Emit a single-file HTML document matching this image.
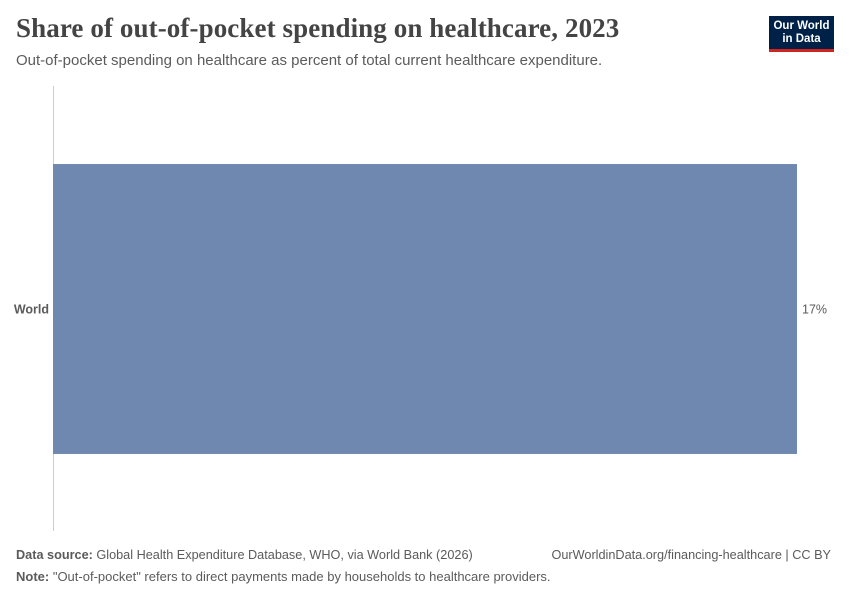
<!DOCTYPE html>
<html><head><meta charset="utf-8"><style>
body{margin:0;width:850px;height:600px;background:#fff;font-family:"Liberation Sans",sans-serif;position:relative;overflow:hidden}
.t{position:absolute;white-space:nowrap}
</style></head><body>
<div class="t" style="left:16px;top:13px;font-family:'Liberation Serif',serif;font-size:27px;font-weight:bold;color:#444;letter-spacing:0.1px">Share of out-of-pocket spending on healthcare, 2023</div>
<div class="t" style="left:16px;top:52px;font-size:15px;color:#5b5b5b">Out-of-pocket spending on healthcare as percent of total current healthcare expenditure.</div>
<div style="position:absolute;left:769px;top:16px;width:65px;height:36px;background:#002147;border-bottom:3px solid #ce261e;box-sizing:border-box;color:#fff;font-size:11.5px;line-height:13px;text-align:center;padding-top:4px;font-weight:bold">Our World<br>in Data</div>
<svg id="chart" width="850" height="600" style="position:absolute;left:0;top:0"></svg>
<div class="t" style="left:16px;top:548px;font-size:12.7px;color:#5b5b5b"><b>Data source:</b> Global Health Expenditure Database, WHO, via World Bank (2026)</div>
<div class="t" style="right:19px;top:548px;font-size:12.7px;color:#5b5b5b">OurWorldinData.org/financing-healthcare | CC BY</div>
<div class="t" style="left:16px;top:569px;font-size:13px;color:#5b5b5b"><b>Note:</b> "Out-of-pocket" refers to direct payments made by households to healthcare providers.</div>
<script>
const categories=["World"];
const values=[17];
const valueLabels=["17%"];
const svg=document.getElementById('chart');
const NS='http://www.w3.org/2000/svg';
const x0=53,x1=797,maxV=17;
const xs=v=>x0+v/maxV*(x1-x0);
const top0=87,bot0=531;
const band=(bot0-top0)/categories.length;
function mk(t,a){const e=document.createElementNS(NS,t);for(const k in a)e.setAttribute(k,a[k]);svg.appendChild(e);return e;}
const ax=mk('line',{x1:x0+0.5,x2:x0+0.5,y1:top0-1,y2:bot0,stroke:'#ccc','stroke-width':1});


categories.forEach((c,i)=>{
  const yc=top0+band*(i+0.5),h=band*0.653;
  const r=mk('rect',{x:x0,y:yc-h/2,width:xs(values[i])-x0,height:h,fill:'#6f88b0'});
  
  
  const l=mk('text',{x:x0-4,y:yc+4.5,'text-anchor':'end','font-size':12.5,'font-weight':'bold',fill:'#5b5b5b','font-family':'Liberation Sans'});
  l.textContent=c;
  
  
  const v=mk('text',{x:xs(values[i])+5,y:yc+4.5,'font-size':12.5,fill:'#5b5b5b','font-family':'Liberation Sans'});
  v.textContent=valueLabels[i];
  
  
});
</script>
</body></html>
